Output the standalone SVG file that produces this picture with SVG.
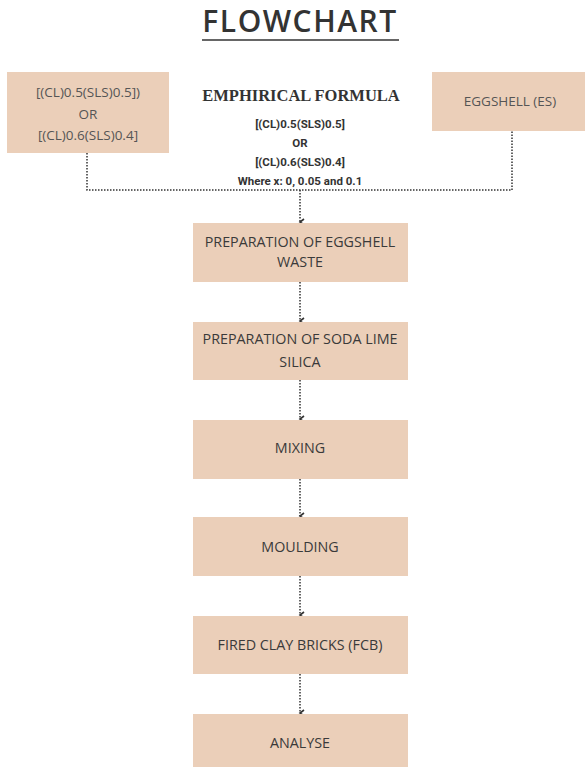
<svg xmlns="http://www.w3.org/2000/svg" width="586" height="769" viewBox="0 0 586 769">
<defs>
<style>
.box{fill:#EBCFB9;}
.bt{font-family:"Open Sans","Liberation Sans",sans-serif;font-size:14.3px;fill:#3a3a3a;text-anchor:middle;font-weight:400;}
.lt{font-family:"Open Sans","Liberation Sans",sans-serif;font-size:13.5px;fill:#555;text-anchor:middle;}
.ft{font-family:"Roboto","Liberation Sans",sans-serif;font-size:11.5px;font-weight:700;fill:#333;text-anchor:middle;}
.con{fill:none;stroke:#333;stroke-width:1.5;stroke-dasharray:1.5 1.5;}
</style>
<marker id="ah" viewBox="0 0 8 8" refX="4" refY="6" markerWidth="8" markerHeight="8" markerUnits="userSpaceOnUse" orient="auto-start-reverse">
<path d="M1,2 L4,6 L7,2" fill="none" stroke="#333" stroke-width="1.6"/>
</marker>
</defs>
<rect width="586" height="769" fill="#ffffff"/>
<g id="title">
<text x="300" y="32" font-family="Open Sans, Liberation Sans, sans-serif" font-size="30" font-weight="600" fill="#333" text-anchor="middle" letter-spacing="1.5">FLOWCHART</text>
<line x1="202" y1="40" x2="399" y2="40" stroke="#333" stroke-width="1.5"/>
</g>
<g id="connectors">
<path class="con" d="M87,153 V190 H512 V131"/>
<path class="con" d="M300,190 V222" marker-end="url(#ah)"/>
<path class="con" d="M300,282 V321" marker-end="url(#ah)"/>
<path class="con" d="M300,380 V419" marker-end="url(#ah)"/>
<path class="con" d="M300,479 V516" marker-end="url(#ah)"/>
<path class="con" d="M300,576 V615" marker-end="url(#ah)"/>
<path class="con" d="M300,674 V713" marker-end="url(#ah)"/>
</g>
<g id="node-left">
<rect class="box" x="7" y="72" width="162" height="81"/>
<text class="lt" x="88" y="97">[(CL)0.5(SLS)0.5])</text>
<text class="lt" x="88" y="119">OR</text>
<text class="lt" x="88" y="140">[(CL)0.6(SLS)0.4]</text>
</g>
<g id="node-formula">
<text x="301" y="101" font-family="Liberation Serif, serif" font-size="16.5" font-weight="700" fill="#333" text-anchor="middle">EMPHIRICAL FORMULA</text>
<text class="ft" x="300" y="128">[(CL)0.5(SLS)0.5]</text>
<text class="ft" x="300" y="147">OR</text>
<text class="ft" x="300" y="166">[(CL)0.6(SLS)0.4]</text>
<text class="ft" x="300" y="185">Where x: 0, 0.05 and 0.1</text>
</g>
<g id="node-eggshell">
<rect class="box" x="432" y="72" width="153" height="59"/>
<text class="lt" x="510" y="106" font-size="14.3">EGGSHELL (ES)</text>
</g>
<g id="node-prep-eggshell">
<rect class="box" x="193" y="223" width="215" height="59"/>
<text class="bt" x="300" y="247">PREPARATION OF EGGSHELL</text>
<text class="bt" x="300" y="267">WASTE</text>
</g>
<g id="node-prep-sls">
<rect class="box" x="193" y="322" width="215" height="58"/>
<text class="bt" x="300" y="344">PREPARATION OF SODA LIME</text>
<text class="bt" x="300" y="367">SILICA</text>
</g>
<g id="node-mixing">
<rect class="box" x="193" y="420" width="215" height="59"/>
<text class="bt" x="300" y="453">MIXING</text>
</g>
<g id="node-moulding">
<rect class="box" x="193" y="517" width="215" height="59"/>
<text class="bt" x="300" y="552">MOULDING</text>
</g>
<g id="node-fcb">
<rect class="box" x="193" y="616" width="215" height="58"/>
<text class="bt" x="300" y="650">FIRED CLAY BRICKS (FCB)</text>
</g>
<g id="node-analyse">
<rect class="box" x="193" y="714" width="215" height="53"/>
<text class="bt" x="300" y="748">ANALYSE</text>
</g>
</svg>
